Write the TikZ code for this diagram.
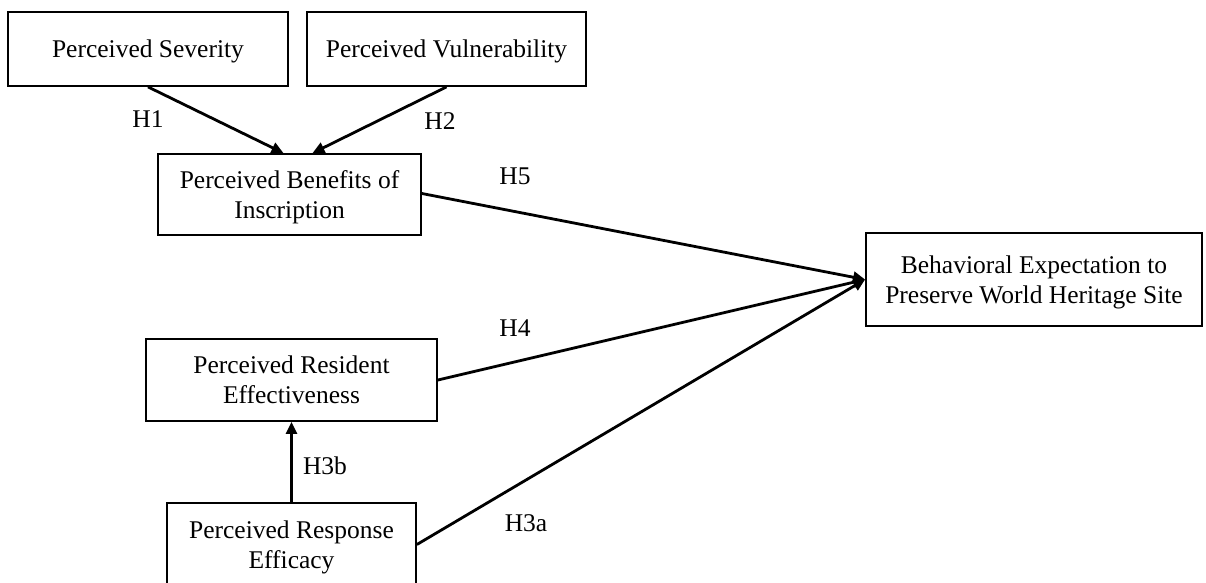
\documentclass[tikz,border=0pt]{standalone}
\usepackage{fontspec}
\setmainfont{Liberation Serif}
\usetikzlibrary{arrows.meta}
\begin{document}
\begin{tikzpicture}[x=1pt,y=-1pt,
  box/.style={draw, line width=1.8pt, align=center, inner sep=0pt,
    text depth=-1pt, font=\fontsize{25.5}{30}\selectfont},
  link/.style={line width=2.8pt, -{Triangle[length=12pt,width=11pt]}},
  hyp/.style={font=\fontsize{25.5}{30}\selectfont, inner sep=0pt}]
\useasboundingbox (0,0) rectangle (1206,582);

% constructs
\node[box, minimum width=280pt, minimum height=74pt] (sev) at (148,49) {Perceived Severity};
\node[box, minimum width=279pt, minimum height=74pt] (vul) at (446.5,49) {Perceived Vulnerability};
\node[box, minimum width=263pt, minimum height=81pt] (ben) at (289.5,194.5) {Perceived Benefits of\\Inscription};
\node[box, minimum width=336pt, minimum height=93pt] (beh) at (1034,279.5) {Behavioral Expectation to\\Preserve World Heritage Site};
\node[box, minimum width=291pt, minimum height=82pt] (res) at (291.5,380) {Perceived Resident\\Effectiveness};
\node[box, minimum width=249pt, minimum height=83pt] (resp) at (291.5,544.5) {Perceived Response\\Efficacy};

% paths
\draw[link] (sev.south) -- ([xshift=-6pt]ben.north);
\draw[link] (vul.south) -- ([xshift=23pt]ben.north);
\draw[link] ([yshift=1pt]ben.east) -- (beh.west);
\draw[link] (res.east) -- (beh.west);
\draw[link] (resp.east) -- (beh.west);
\draw[link] (resp.north) -- (res.south);

% hypothesis labels
\node[hyp] (h1) at (148,119) {H1};
\node[hyp] (h2) at (440,121) {H2};
\node[hyp] (h5) at (515,176) {H5};
\node[hyp] (h4) at (515,328) {H4};
\node[hyp] (h3b) at (325,466) {H3b};
\node[hyp] (h3a) at (526,523) {H3a};
\end{tikzpicture}
\end{document}
